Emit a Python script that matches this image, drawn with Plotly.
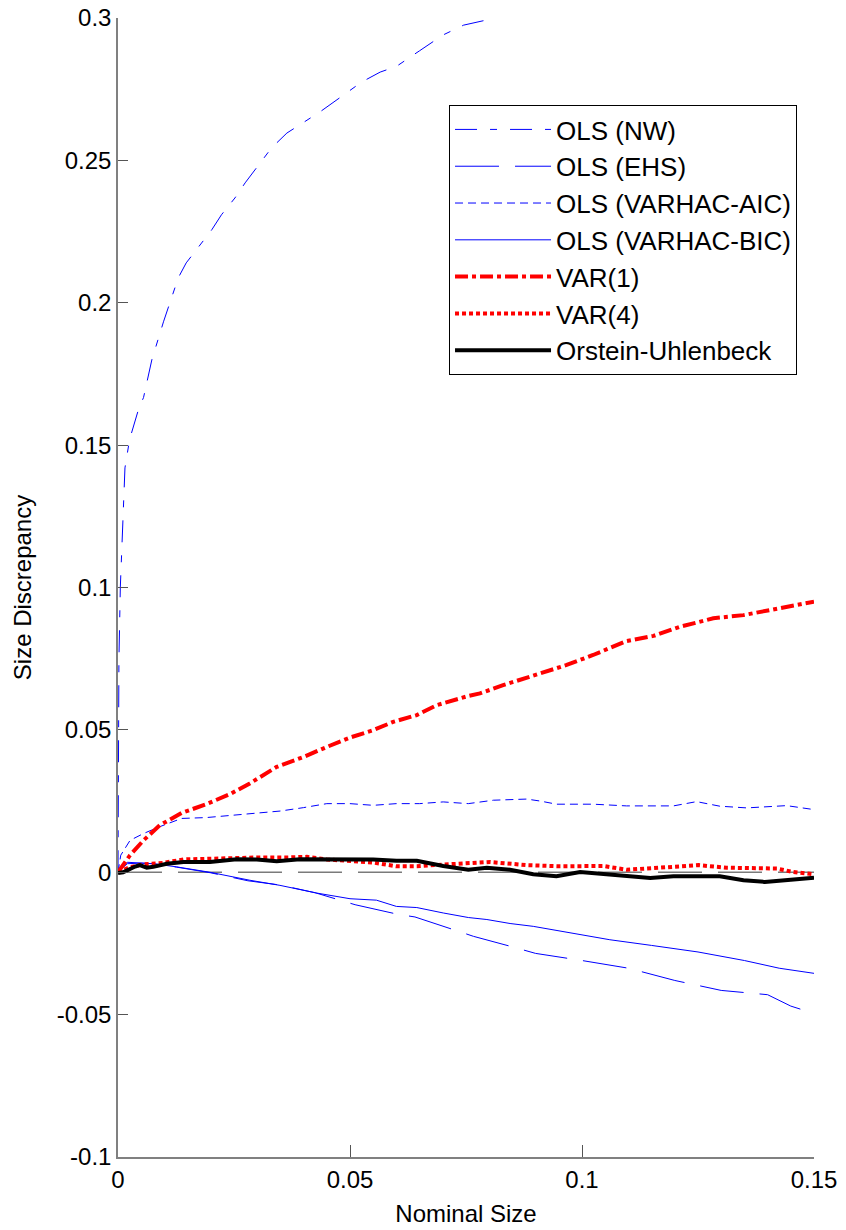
import plotly.graph_objects as go

# ---------------- data ----------------
nw_x = [0, 0.0002, 0.0005, 0.001, 0.0015, 0.0025, 0.0035, 0.0045, 0.0055, 0.0073, 0.0098,
        0.0112, 0.013, 0.0147, 0.0173, 0.0202, 0.0223, 0.0252, 0.0274, 0.03, 0.0331, 0.0364,
        0.0392, 0.0435, 0.0478, 0.0525, 0.0565, 0.06, 0.065, 0.07, 0.0745, 0.08, 0.0856]
nw_y = [0, 0.075, 0.1, 0.125, 0.142, 0.152, 0.158, 0.163, 0.1667, 0.18, 0.1933,
        0.2, 0.2088, 0.214, 0.2196, 0.2256, 0.2309, 0.2368, 0.2421, 0.2477, 0.2544, 0.2596,
        0.2625, 0.267, 0.272, 0.2775, 0.281, 0.283, 0.2885, 0.294, 0.2975, 0.2995, 0.302]

ehs_x = [0, 0.002, 0.005, 0.0076, 0.0126, 0.02, 0.028, 0.035, 0.0425, 0.0478, 0.0511, 0.0604,
         0.064, 0.0733, 0.0766, 0.085, 0.09, 0.1, 0.11, 0.12, 0.13, 0.14, 0.145, 0.15]
ehs_y = [0, 0.003, 0.0032, 0.003, 0.0018, -0.0002, -0.003, -0.0045, -0.0072, -0.0098, -0.0114, -0.0148,
         -0.0157, -0.0207, -0.0225, -0.0262, -0.0285, -0.031, -0.0337, -0.038, -0.0415, -0.043, -0.047, -0.0496]

aic_x = [0, 0.0006, 0.0026, 0.0055, 0.009, 0.0137, 0.019, 0.0241, 0.0292, 0.035, 0.04, 0.045,
         0.05, 0.055, 0.06, 0.065, 0.0701, 0.0755, 0.0809, 0.0881, 0.091, 0.0945, 0.1024, 0.1096,
         0.1197, 0.1247, 0.1297, 0.1355, 0.1441, 0.15]
aic_y = [0, 0.006, 0.0112, 0.0136, 0.016, 0.0189, 0.0192, 0.02, 0.0208, 0.0215, 0.0227, 0.0241,
         0.0241, 0.0235, 0.0241, 0.0241, 0.0247, 0.0241, 0.0253, 0.0257, 0.025, 0.0239, 0.0239, 0.0233,
         0.0233, 0.0248, 0.0232, 0.0226, 0.0234, 0.022]

bic_x = [0, 0.002, 0.0076, 0.0126, 0.0198, 0.0284, 0.0349, 0.0428, 0.05, 0.0557, 0.06, 0.0644,
         0.0701, 0.0755, 0.0795, 0.0845, 0.0895, 0.0953, 0.106, 0.115, 0.125, 0.135, 0.1425, 0.15]
bic_y = [0, 0.0035, 0.003, 0.0019, 0.0, -0.0028, -0.0046, -0.0073, -0.0093, -0.0098, -0.012, -0.0124,
         -0.0143, -0.0159, -0.0166, -0.018, -0.019, -0.0206, -0.0237, -0.0257, -0.028, -0.031, -0.0337, -0.0355]

var1_x = [0, 0.0026, 0.0055, 0.009, 0.0137, 0.019, 0.0241, 0.0284, 0.0342, 0.04, 0.045, 0.05,
          0.055, 0.0593, 0.0644, 0.0687, 0.0755, 0.078, 0.083, 0.0881, 0.0931, 0.0967, 0.1024,
          0.1096, 0.1154, 0.1211, 0.1283, 0.1348, 0.1412, 0.15]
var1_y = [0, 0.006, 0.0112, 0.0165, 0.0208, 0.0239, 0.0274, 0.0312, 0.037, 0.0405, 0.044, 0.0473,
          0.0499, 0.0528, 0.0552, 0.0587, 0.0619, 0.0628, 0.0657, 0.0684, 0.0707, 0.0728, 0.0763,
          0.0812, 0.083, 0.0862, 0.0892, 0.0903, 0.0923, 0.095]

var4_x = [0, 0.0026, 0.0055, 0.0098, 0.0141, 0.0198, 0.0256, 0.0305, 0.0364, 0.0407, 0.045, 0.05,
          0.055, 0.06, 0.0644, 0.0701, 0.0755, 0.0802, 0.0881, 0.0953, 0.1046, 0.1096, 0.1168,
          0.1251, 0.1312, 0.142, 0.1455, 0.15]
var4_y = [0, 0.0018, 0.0028, 0.0033, 0.0045, 0.0048, 0.0052, 0.0052, 0.0052, 0.0054, 0.0045, 0.004,
          0.0034, 0.0021, 0.0021, 0.0027, 0.0033, 0.0036, 0.0025, 0.0021, 0.0022, 0.0009, 0.0016,
          0.0025, 0.0016, 0.0013, 0.0001, -0.0007]

ou_x = [0, 0.0011, 0.0037, 0.0047, 0.0062, 0.0076, 0.0105, 0.0141, 0.0198, 0.0256, 0.0299, 0.0342,
        0.0392, 0.0486, 0.055, 0.06, 0.0644, 0.0701, 0.0755, 0.0795, 0.0845, 0.0895, 0.0945,
        0.0996, 0.1053, 0.1147, 0.1197, 0.1297, 0.1348, 0.1394, 0.145, 0.15]
ou_y = [-0.0003, 0.0, 0.002, 0.0025, 0.0016, 0.0019, 0.003, 0.0036, 0.0036, 0.0046, 0.0045, 0.0039,
        0.0046, 0.0045, 0.0045, 0.004, 0.004, 0.0022, 0.0009, 0.0016, 0.0009, -0.0007, -0.0014,
        0.0001, -0.0007, -0.002, -0.0014, -0.0014, -0.0028, -0.0034, -0.0026, -0.0019]

zero_x = [0, 0.15]
zero_y = [0, 0]

x_tickvals = [0, 0.05, 0.1, 0.15]
x_ticktext = ["0", "0.05", "0.1", "0.15"]
y_tickvals = [-0.1, -0.05, 0, 0.05, 0.1, 0.15, 0.2, 0.25, 0.3]
y_ticktext = ["-0.1", "-0.05", "0", "0.05", "0.1", "0.15", "0.2", "0.25", "0.3"]

FONT = "Arial, Liberation Sans, sans-serif"
BLUE = "#0000FF"
RED = "#FF0000"

fig = go.Figure()

fig.add_trace(go.Scatter(x=zero_x, y=zero_y, mode="lines", showlegend=False,
                         line=dict(color="#7a7a7a", width=1.5, dash="44px,16px"), hoverinfo="skip"))

series = [
    ("OLS (NW)", nw_x, nw_y, dict(color=BLUE, width=1, dash="22px,13px,7px,13px")),
    ("OLS (EHS)", ehs_x, ehs_y, dict(color=BLUE, width=1, dash="44px,16px")),
    ("OLS (VARHAC-AIC)", aic_x, aic_y, dict(color=BLUE, width=1, dash="8px,5px")),
    ("OLS (VARHAC-BIC)", bic_x, bic_y, dict(color=BLUE, width=1)),
    ("VAR(1)", var1_x, var1_y, dict(color=RED, width=4, dash="13px,4px,4px,4px")),
    ("VAR(4)", var4_x, var4_y, dict(color=RED, width=4, dash="4px,3px")),
    ("Orstein-Uhlenbeck", ou_x, ou_y, dict(color="black", width=4)),
]
for i, (name, xs, ys, ln) in enumerate(series):
    fig.add_trace(go.Scatter(x=xs, y=ys, mode="lines", name=name, line=ln,
                             legendgroup=f"g{i}"))

fig.update_layout(
    width=846, height=1230,
    margin=dict(l=118, r=32, t=18, b=73, autoexpand=False),
    paper_bgcolor="white", plot_bgcolor="white",
    font=dict(family=FONT, size=24, color="black"),
    showlegend=True,
    legend=dict(
        x=0.4756, y=0.9236, xanchor="left", yanchor="top",
        bgcolor="white", bordercolor="black", borderwidth=1,
        font=dict(family=FONT, size=26, color="black"),
        itemwidth=96, tracegroupgap=4, traceorder="normal",
    ),
    xaxis=dict(
        range=[0, 0.15], tickvals=x_tickvals, ticktext=x_ticktext, automargin=False,
        showgrid=False, zeroline=False, showline=True, linecolor="#808080", linewidth=1.5,
        ticks="inside", ticklen=12, tickcolor="#555555", tickwidth=1,
        ticklabeloverflow="allow",
        tickfont=dict(family=FONT, size=24, color="black"),
        title=dict(text="Nominal Size", font=dict(family=FONT, size=24, color="black"), standoff=14),
        mirror=False,
    ),
    yaxis=dict(
        range=[-0.1, 0.3], tickvals=y_tickvals, ticktext=y_ticktext, automargin=False,
        showgrid=False, zeroline=False, showline=True, linecolor="#808080", linewidth=1.5,
        ticks="inside", ticklen=10, tickcolor="#555555", tickwidth=1,
        ticklabeloverflow="allow",
        tickfont=dict(family=FONT, size=24, color="black"),
        title=dict(text="Size Discrepancy", font=dict(family=FONT, size=24, color="black"), standoff=18),
        mirror=False,
    ),
)

# remove the default 8px page margin so the figure sits at the window's top-left corner
fig.write_html("out.html", config={"displayModeBar": False},
               post_script="document.body.style.margin='0';")
